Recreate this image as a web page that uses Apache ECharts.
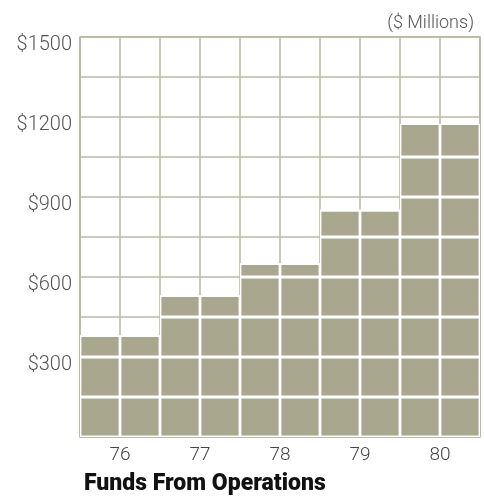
<!DOCTYPE html>
<html>
<head>
<meta charset="utf-8">
<script src="https://cdn.jsdelivr.net/npm/echarts@6/dist/echarts.min.js"></script>
<style>
  html, body { margin: 0; padding: 0; background: #fff; }
  #chart { width: 484px; height: 497px; }
</style>
</head>
<body>
<div id="chart"></div>
<script>
// Funds from operations, $ millions, one pair of columns per year
const years = ['76', '77', '78', '79', '80'];
const funds = [380, 530, 650, 850, 1175];
const yTicks = [300, 600, 900, 1200, 1500];

const CELL = 150;          // height of one grid cell in $ millions
const MAX = 1500;
const BAR = '#aaa78f';
const GRID = '#b9b7a3';

// Each column is cut into 150-high blocks so white seams line up with the grid
const nSeg = Math.ceil(Math.max(...funds) / CELL);
const series = [];
['L', 'R'].forEach(side => {
  for (let k = 0; k < nSeg; k++) {
    series.push({
      type: 'bar',
      stack: side,
      xAxisIndex: 0,
      barWidth: '50%',
      barGap: '0%',
      z: 3,
      itemStyle: { color: BAR, borderColor: '#ffffff', borderWidth: 1.4 },
      data: funds.map(v => Math.max(0, Math.min(CELL, v - k * CELL)))
    });
  }
});

const chart = echarts.init(document.getElementById('chart'));
chart.setOption({
  animation: false,
  backgroundColor: '#ffffff',
  textStyle: { fontFamily: 'Roboto' },
  grid: { left: 80, right: 4, top: 37, bottom: 60, show: true, borderColor: GRID, borderWidth: 1.5, z: 1 },
  title: [
    {
      text: '($ Millions)', right: 5, top: 9,
      textStyle: { fontFamily: 'Roboto', fontWeight: 300, fontSize: 18, color: '#555' }
    },
    {
      text: 'Funds From Operations', left: 79, top: 468,
      textStyle: { fontFamily: 'Roboto', fontWeight: 900, fontSize: 23, color: '#111' }
    }
  ],
  xAxis: [
    {
      type: 'category',
      data: years,
      axisLine: { show: false },
      axisTick: { show: false },
      splitLine: { show: false },
      axisLabel: { margin: 9, fontFamily: 'Roboto', fontWeight: 300, fontSize: 19, color: '#444' }
    },
    {
      // finer axis: one division per column, used only for the vertical grid lines
      type: 'value', min: 0, max: years.length * 2, interval: 1,
      position: 'bottom', show: true,
      axisLine: { show: false }, axisTick: { show: false }, axisLabel: { show: false },
      splitLine: { show: true, lineStyle: { color: GRID, width: 1.5 } },
      z: 1
    }
  ],
  yAxis: {
    type: 'value', min: 0, max: MAX, interval: CELL,
    axisLine: { show: false }, axisTick: { show: false },
    splitLine: { show: true, lineStyle: { color: GRID, width: 1.5 } },
    axisLabel: {
      margin: 8,
      verticalAlign: 'top',
      lineHeight: 15,
      fontFamily: 'Roboto', fontWeight: 300, fontSize: 20, color: '#555',
      formatter: v => (yTicks.includes(v) ? '$' + v : '')
    }
  },
  series: series
});
</script>
</body>
</html>
